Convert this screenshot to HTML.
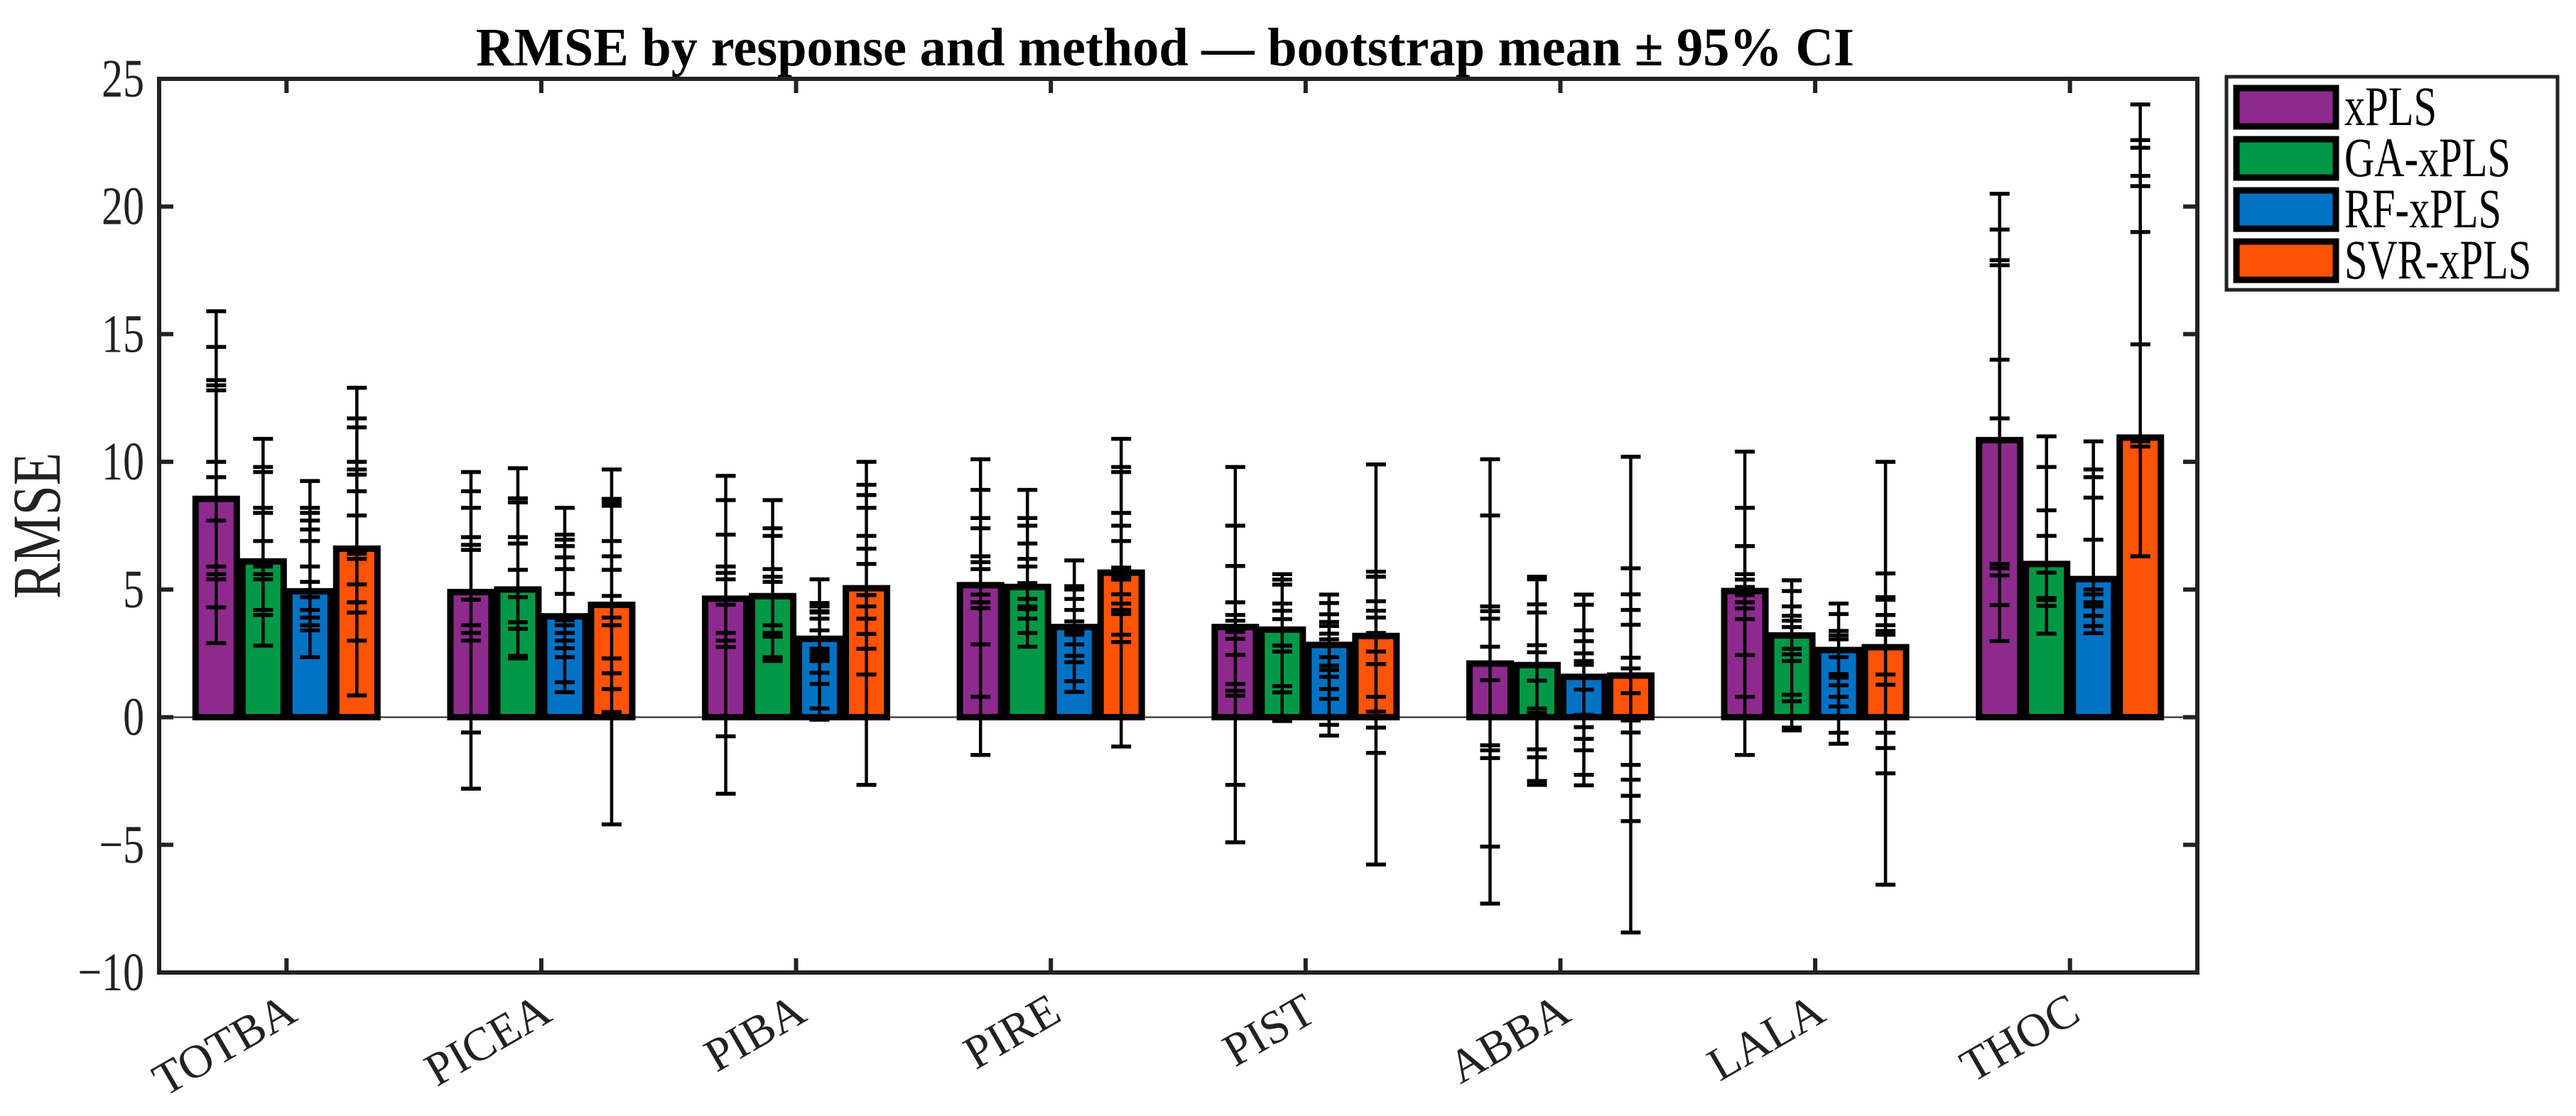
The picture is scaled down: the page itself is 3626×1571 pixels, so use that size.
<!DOCTYPE html>
<html><head><meta charset="utf-8"><style>
html,body{margin:0;padding:0;background:#fff;}
svg{display:block;font-family:"Liberation Serif",serif;}
</style></head><body>
<svg id="chart" width="3626" height="1571" viewBox="0 0 3626 1571" xmlns="http://www.w3.org/2000/svg">
<rect x="0" y="0" width="3626" height="1571" fill="#fff"/>
<text x="1640" y="92" text-anchor="middle" font-size="76" font-weight="bold" fill="#000" textLength="1940" lengthAdjust="spacingAndGlyphs">RMSE by response and method — bootstrap mean ± 95% CI</text>
<text transform="translate(84,740) rotate(-90) scale(0.9,1.15)" text-anchor="middle" font-size="84" fill="#222">RMSE</text>
<g id="plot"></g>
<g id="legend"></g>
</svg>
<script>
const categories = ["TOTBA","PICEA","PIBA","PIRE","PIST","ABBA","LALA","THOC"];
const methods = ["xPLS","GA-xPLS","RF-xPLS","SVR-xPLS"];
const colors = ["#8E2A8D","#009846","#0072C4","#FF5308"];
const yTicks = [-10,-5,0,5,10,15,20,25];
const meanXPLS = [8.55,4.9,4.64,5.17,3.53,2.1,4.94,10.85];
const meanGA   = [6.1,5.0,4.74,5.1,3.43,2.04,3.2,6.0];
const meanRF   = [4.93,3.95,3.07,3.53,2.83,1.58,2.63,5.41];
const meanSVR  = [6.6,4.4,5.05,5.66,3.18,1.63,2.74,10.95];
const ciXPLS = [
 [15.9,14.5,13.2,13.0,12.8,10,9.4,7.7,5.9,5.6,5.4,4.3,2.9],
 [9.6,8.85,8.2,7.05,6.75,6.55,4.6,3.6,3.3,3.0,-0.6,-2.8],
 [9.45,8.5,7.15,5.9,5.65,5.4,4.4,3.3,3.0,2.75,-0.75,-3.0],
 [10.1,8.9,7.8,7.4,6.3,6.07,5.8,4.8,4.5,4.27,2.85,0.8,-1.48],
 [9.8,7.5,5.92,4.5,4.0,3.78,3.34,3.07,2.44,1.3,1.03,0.84,-2.65,-4.9],
 [10.1,7.9,4.34,4.15,3.86,2.76,1.45,-1.1,-1.3,-1.6,-5.07,-7.3],
 [10.4,8.2,6.7,5.6,5.39,5.1,4.78,4.5,4.26,3.84,2.43,0.8,-1.48],
 [20.5,19.1,17.9,17.7,14.0,11.7,6.0,5.83,5.55,4.39,2.98]];
const ciGA = [
 [10.9,9.8,9.6,8.2,8.0,6.9,5.9,5.6,5.4,4.2,4.0,2.8],
 [9.75,8.57,8.41,7.05,6.8,5.77,4.7,3.72,3.46,2.4,2.3],
 [8.5,7.4,7.1,5.8,5.5,5.3,4.7,3.6,3.3,3.15,2.35,2.2],
 [8.9,7.8,7.5,6.8,6.2,5.9,5.25,4.63,4.34,4.23,3.86,3.3,2.76],
 [5.6,5.39,5.19,4.45,4.17,3.84,2.8,2.57,1.22,0.97,-0.15],
 [5.5,5.4,4.42,4.1,2.82,2.54,1.43,0.34,0.17,-1.26,-1.57,-2.5,-2.65],
 [5.36,4.94,4.34,3.97,3.78,3.53,2.68,2.46,2.2,0.88,0.62,-0.41,-0.52],
 [11.0,9.8,8.1,7.1,5.66,4.67,4.59,4.36,3.27]];
const ciRF = [
 [9.25,8.2,8.0,7.7,7.35,6.9,5.9,5.3,4.7,4.2,3.9,3.6,3.4,2.35],
 [8.2,7.15,6.95,6.7,6.26,5.8,4.83,3.8,3.6,3.3,3.0,2.7,2.35,1.37,0.98],
 [5.4,4.47,4.34,4.15,4.1,3.86,3.4,2.68,2.57,2.46,2.33,2.2,1.74,1.3,0.34,-0.1],
 [6.14,5.13,5.0,4.63,4.2,3.75,3.34,3.23,2.85,2.4,2.15,1.41,0.99],
 [4.8,4.47,4.03,3.73,3.57,3.27,3.05,2.8,2.35,2.02,1.85,1.58,1.1,0.72,-0.3,-0.72],
 [4.8,4.4,3.4,2.98,2.5,2.2,2.05,1.08,0.09,-0.39,-0.85,-1.3,-2.26,-2.67],
 [4.45,4.04,3.38,3.21,3.05,2.35,1.69,1.55,1.25,0.8,0.42,-0.61,-1.04],
 [10.8,9.7,9.4,8.6,6.95,5.0,4.81,4.5,4.34,3.97,3.57,3.29]];
const ciSVR = [
 [12.9,11.7,11.35,10.0,9.7,9.5,8.85,7.9,6.4,6.2,5.2,4.5,4.1,3.0,0.85],
 [9.7,8.55,8.41,8.28,6.9,6.3,5.77,4.75,3.9,3.6,2.3,1.72,1.1,0.2,-4.2],
 [10.0,9.1,8.7,8.2,7.1,6.6,6.0,4.78,4.34,3.86,3.26,2.68,1.67,-2.65],
 [10.9,9.8,9.6,8.0,7.5,6.9,5.86,5.5,5.39,4.81,4.45,4.2,4.04,3.23,2.94,-1.15],
 [9.9,5.7,5.5,4.54,4.17,3.9,3.3,2.57,2.08,0.8,0.22,-0.41,-1.4,-5.77],
 [10.2,5.83,4.81,4.2,3.62,2.33,1.91,0.94,-0.13,-0.6,-1.87,-2.45,-3.08,-4.07,-8.43],
 [10.0,5.63,4.7,4.6,4.0,3.6,3.38,3.23,1.67,1.27,-0.61,-1.21,-2.2,-6.56],
 [24.0,22.6,22.3,21.2,20.8,19.0,14.6,10.8,10.6,6.3]];

const means=[meanXPLS,meanGA,meanRF,meanSVR];
const cis=[ciXPLS,ciGA,ciRF,ciSVR];
const L=224,R=3093,T=111,B=1369,yMin=-10,yMax=25;
const NS="http://www.w3.org/2000/svg";
function yS(v){return B-(v-yMin)/(yMax-yMin)*(B-T);}
function xS(i){return L+(R-L)/categories.length*(i+0.5);}
const barStep=66, barW=58;
function mk(tag,attrs,parent){const e=document.createElementNS(NS,tag);for(const k in attrs)e.setAttribute(k,attrs[k]);parent.appendChild(e);return e;}
const plot=document.getElementById('plot');
const z=mk('line',{x1:L,x2:R,y1:yS(0),y2:yS(0),stroke:'#444','stroke-width':2.5},plot);


for(let m=0;m<methods.length;m++){
 for(let i=0;i<categories.length;i++){
  const cx=xS(i)+(m-1.5)*barStep, v=means[m][i];
  const r=mk('rect',{x:cx-barW/2,y:Math.min(yS(v),yS(0)),width:barW,height:Math.abs(yS(0)-yS(v)),fill:colors[m],stroke:'#000','stroke-width':9},plot);
  
  
 }
}
for(let m=0;m<methods.length;m++){
 for(let i=0;i<categories.length;i++){
  const cx=xS(i)+(m-1.5)*barStep, c=cis[m][i];
  const g=mk('g',{stroke:'#000'},plot);
  
  
  const hi=Math.max(...c), lo=Math.min(...c);
  mk('line',{x1:cx,x2:cx,y1:yS(hi),y2:yS(lo),'stroke-width':4.5},g);
  for(const v of c){mk('line',{x1:cx-14,x2:cx+14,y1:yS(v),y2:yS(v),'stroke-width':5.5},g);}
 }
}
const ax=mk('rect',{x:L,y:T,width:R-L,height:B-T,fill:'none',stroke:'#222','stroke-width':6},plot);


for(const t of yTicks){
 const y=yS(t);
 const tk=mk('path',{d:`M${L} ${y}H${L+20}M${R} ${y}H${R-20}`,stroke:'#222','stroke-width':6},plot);
 
 
 const tx=mk('text',{transform:`translate(203,${y+25}) scale(0.88,1.12)`,'text-anchor':'end','font-size':68,fill:'#222'},plot);
 tx.textContent=t<0?'\u2212'+Math.abs(t):String(t);
 
 
}
for(let i=0;i<categories.length;i++){
 const x=xS(i);
 const tk=mk('path',{d:`M${x} ${B}V${B-20}M${x} ${T}V${T+20}`,stroke:'#222','stroke-width':6},plot);
 
 
 const tx=mk('text',{transform:`translate(${x+18},${1435}) rotate(-30)`,'text-anchor':'end','font-size':66,fill:'#222'},plot);
 tx.textContent=categories[i];
 
 
}
const lg=document.getElementById('legend');
const lb=mk('rect',{x:3134,y:108,width:466,height:300,fill:'#fff',stroke:'#222','stroke-width':5},lg);


for(let m=0;m<methods.length;m++){
 const y0=124+m*72;
 const g=mk('g',{},lg);
 
 
 mk('rect',{x:3148,y:y0,width:140,height:54,fill:colors[m],stroke:'#000','stroke-width':9},g);
 const t=mk('text',{transform:`translate(3300,${y0+52}) scale(0.86,1.15)`,'font-size':68,fill:'#000'},g);
 t.textContent=methods[m];
}
</script>
</body></html>
